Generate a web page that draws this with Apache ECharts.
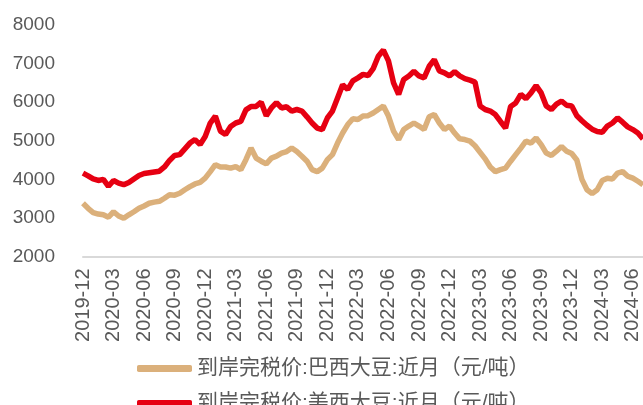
<!DOCTYPE html>
<html>
	<head>
		<meta charset="UTF-8">
		<title></title>
		<script src="https://cdn.jsdelivr.net/npm/echarts@6/dist/echarts.min.js"></script>
		<style>
			html, body { margin: 0; padding: 0; background: #fff; }
			#main { width: 643px; height: 405px; }
		</style>
	</head>
	<body>
		<div id="main"></div>
		<script type="text/javascript">
			// 半月一个读数，从 2019-12 开始
			var step = 0.5;
			var tickLabels = ['2019-12', '2020-03', '2020-06', '2020-09', '2020-12', '2021-03', '2021-06',
				'2021-09', '2021-12', '2022-03', '2022-06', '2022-09', '2022-12', '2023-03', '2023-06',
				'2023-09', '2023-12', '2024-03', '2024-06'];
			var seriesNames = ['到岸完税价:巴西大豆:近月（元/吨）', '到岸完税价:美西大豆:近月（元/吨）'];

			// 巴西大豆
			var brazil = [3380, 3250, 3140, 3100, 3080, 3020, 3160, 3050, 2990, 3080,
				3160, 3250, 3310, 3380, 3410, 3430, 3510, 3600, 3590, 3640,
				3730, 3810, 3880, 3920, 4030, 4200, 4380, 4320, 4320, 4290,
				4330, 4250, 4510, 4810, 4550, 4470, 4400, 4550, 4600, 4680,
				4720, 4810, 4720, 4600, 4470, 4250, 4200, 4290, 4510, 4640,
				4940, 5200, 5420, 5570, 5550, 5640, 5650, 5720, 5810, 5900,
				5640, 5250, 5030, 5290, 5380, 5460, 5380, 5290, 5620, 5680,
				5460, 5290, 5380, 5200, 5050, 5030, 4990, 4870, 4700, 4530,
				4320, 4200, 4250, 4290, 4470, 4640, 4810, 4990, 4940, 5070,
				4900, 4680, 4620, 4730, 4850, 4730, 4670, 4500, 4000, 3730,
				3630, 3730, 3970, 4030, 4010, 4160, 4200, 4080, 4030, 3950,
				3860];
			// 美西大豆
			var usa = [4160, 4090, 4010, 3970, 4000, 3820, 3970, 3900, 3860, 3920,
				4010, 4100, 4150, 4170, 4190, 4210, 4320, 4490, 4620, 4640,
				4790, 4940, 5030, 4900, 5110, 5460, 5640, 5250, 5160, 5370,
				5460, 5500, 5800, 5890, 5890, 6000, 5650, 5850, 5990, 5850,
				5880, 5770, 5810, 5770, 5620, 5460, 5330, 5290, 5590, 5770,
				6110, 6450, 6330, 6550, 6630, 6720, 6690, 6870, 7190, 7350,
				7070, 6500, 6200, 6590, 6680, 6800, 6680, 6630, 6930, 7100,
				6810, 6760, 6680, 6790, 6680, 6610, 6570, 6520, 5900, 5810,
				5770, 5680, 5500, 5330, 5890, 5980, 6200, 6090, 6240, 6430,
				6240, 5900, 5810, 5950, 6030, 5920, 5900, 5650, 5520, 5400,
				5300, 5240, 5220, 5380, 5460, 5590, 5480, 5360, 5290, 5200,
				5050];

			function toPoints(arr) {
				return arr.map(function(v, i) { return [i * step, v]; });
			}

			var font = "'Liberation Sans', 'Noto Sans CJK SC', sans-serif";
			var legendBase = {
				left: 137,
				itemWidth: 55,
				itemHeight: 7,
				icon: 'roundRect',
				padding: 0,
				textStyle: { fontSize: 21, color: '#595959', fontFamily: font }
			};

			var myChart = echarts.init(document.getElementById('main'));

			var option = {
				animation: false,
				textStyle: { fontFamily: font },
				grid: {
					left: 83,
					right: 0,
					top: 25,
					bottom: 148.5,
					containLabel: false,
					outerBoundsMode: 'none'
				},
				// 图例：上下两行
				legend: [
					Object.assign({}, legendBase, { top: 358, data: [seriesNames[0]] }),
					Object.assign({}, legendBase, { top: 393, data: [seriesNames[1]] })
				],
				xAxis: {
					type: 'value',
					min: 0,
					max: 55,
					interval: 3,
					axisLine: { lineStyle: { color: '#d9d9d9', width: 2 } },
					axisTick: { show: false },
					splitLine: { show: false },
					axisLabel: {
						rotate: 90,
						margin: 12,
						fontSize: 20,
						color: '#595959',
						showMaxLabel: false,
						formatter: function(v) {
							return v % 3 === 0 ? (tickLabels[v / 3] || '') : '';
						}
					}
				},
				yAxis: {
					type: 'value',
					min: 2000,
					max: 8000,
					interval: 1000,
					axisLine: { show: false },
					axisTick: { show: false },
					splitLine: { show: false },
					axisLabel: {
						margin: 28,
						fontSize: 19,
						color: '#595959',
						formatter: function(v) { return String(v); }
					}
				},
				series: [{
					name: seriesNames[0],
					type: 'line',
					symbol: 'none',
					data: toPoints(brazil),
					lineStyle: { color: '#dbb07b', width: 5.5 },
					itemStyle: { color: '#dbb07b' }
				}, {
					name: seriesNames[1],
					type: 'line',
					symbol: 'none',
					data: toPoints(usa),
					lineStyle: { color: '#e60012', width: 5.5 },
					itemStyle: { color: '#e60012' }
				}]
			};

			myChart.setOption(option);
		</script>
	</body>
</html>
